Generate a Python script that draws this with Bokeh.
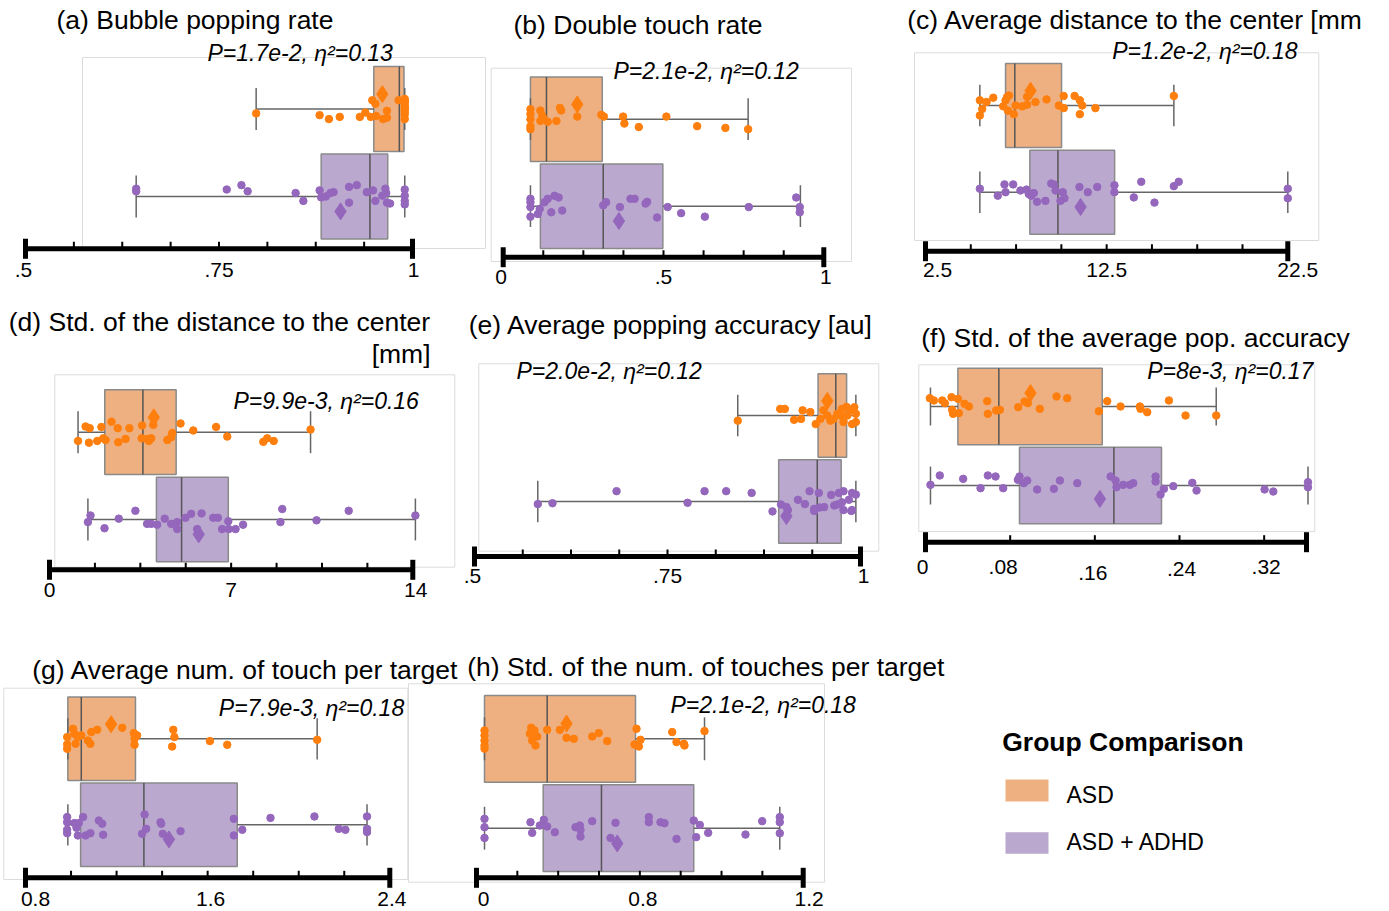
from bokeh.plotting import figure
from bokeh.models import Range1d
from bokeh.core.properties import value
from bokeh.embed import file_html
from bokeh.resources import INLINE

# ------------------------------------------------------------------ data
GROUPS = ["ASD", "ASD + ADHD"]
LEGEND_TITLE = "Group Comparison"

# box stats: [low whisker, q1, median, q3, high whisker]
# (a) Bubble popping rate
a_title = "(a) Bubble popping rate"
a_stat = "P=1.7e-2, η²=0.13"
a_asd_box = [0.798, 0.950, 0.983, 0.989, 0.990]
a_asd_mean = 0.961
a_adhd_box = [0.643, 0.882, 0.945, 0.968, 0.990]
a_adhd_mean = 0.907
a_asd_x = [0.798, 0.880, 0.892, 0.906, 0.932, 0.939, 0.946, 0.948, 0.952, 0.953, 0.962, 0.967, 0.967,
           0.982, 0.990, 0.990, 0.990, 0.990, 0.990, 0.990, 0.990, 0.990, 0.990]
a_asd_dy = [-0.05, -0.07, -0.115, -0.09, -0.09, -0.04, -0.09, 0.10, 0.06, -0.08, -0.115, -0.02, -0.10,
            0.10, 0.115, 0.075, 0.04, 0.0, -0.06, -0.115, 0.09, -0.03, 0.02]
a_adhd_x = [0.643, 0.643, 0.760, 0.779, 0.787, 0.849, 0.859, 0.880, 0.882, 0.888, 0.894, 0.898, 0.918,
            0.918, 0.928, 0.941, 0.949, 0.952, 0.961, 0.965, 0.966, 0.967, 0.971, 0.990, 0.990, 0.990, 0.990]
a_adhd_dy = [0.09, 0.06, 0.08, 0.13, 0.06, 0.04, -0.05, 0.07, -0.01, 0.0, 0.04, 0.05, 0.11,
             -0.07, 0.13, 0.05, 0.07, -0.05, 0.01, 0.09, 0.04, -0.07, -0.08, 0.08, 0.01, -0.05, -0.09]
a_ticks = [0.5, 0.5625, 0.625, 0.6875, 0.75, 0.8125, 0.875, 0.9375, 1.0]
a_label_pos = [0.5, 0.75, 1.0]
a_label_text = [".5", ".75", "1"]

# (b) Double touch rate
b_title = "(b) Double touch rate"
b_stat = "P=2.1e-2,  η²=0.12"
b_asd_box = [0.085, 0.085, 0.135, 0.309, 0.764]
b_asd_mean = 0.231
b_adhd_box = [0.085, 0.116, 0.312, 0.498, 0.927]
b_adhd_mean = 0.361
b_asd_x = [0.085, 0.085, 0.085, 0.085, 0.085, 0.116, 0.122, 0.116, 0.127, 0.139, 0.166, 0.177, 0.181,
           0.231, 0.306, 0.314, 0.374, 0.378, 0.423, 0.509, 0.605, 0.693, 0.764]
b_asd_dy = [0.115, 0.06, 0.0, -0.08, -0.115, 0.10, 0.04, -0.02, 0.0, -0.03, -0.02, 0.13, 0.10,
            0.03, 0.05, 0.03, 0.03, -0.05, -0.09, 0.03, -0.08, -0.10, -0.115]
b_adhd_x = [0.085, 0.085, 0.085, 0.085, 0.108, 0.114, 0.129, 0.139, 0.150, 0.160, 0.173, 0.184, 0.312,
            0.321, 0.364, 0.397, 0.410, 0.444, 0.449, 0.480, 0.513, 0.555, 0.629, 0.766, 0.914, 0.925, 0.925]
b_adhd_dy = [0.085, 0.046, -0.01, -0.12, -0.09, -0.03, 0.046, 0.085, -0.07, 0.12, 0.10, -0.05, 0.01,
             0.046, -0.01, 0.085, 0.085, 0.03, 0.05, -0.13, -0.01, -0.08, -0.12, -0.01, 0.10, -0.01, -0.07]
b_ticks = [0.0, 0.125, 0.25, 0.375, 0.5, 0.625, 0.75, 0.875, 1.0]
b_label_pos = [0.0, 0.5, 1.0]
b_label_text = ["0", ".5", "1"]

# (c) Average distance to the center [mm]
c_title = "(c) Average distance to the center  [mm"
c_stat = "P=1.2e-2,  η²=0.18"
c_asd_box = [5.50, 6.92, 7.43, 10.01, 16.21]
c_asd_mean = 8.30
c_adhd_box = [5.50, 8.26, 9.81, 12.94, 22.5]
c_adhd_mean = 11.06
c_asd_x = [5.50, 5.50, 5.63, 5.87, 6.24, 6.79, 6.92, 7.01, 7.10, 7.05, 7.38, 7.47, 7.84, 8.11, 8.11,
           8.57, 9.18, 9.86, 10.13, 10.13, 10.73, 11.02, 11.15, 11.02, 11.88, 16.21]
c_asd_dy = [0.06, -0.115, -0.04, 0.04, 0.09, -0.01, 0.06, 0.10, 0.115, -0.06, -0.10, 0.0, -0.01, 0.01, 0.10,
            0.04, 0.07, 0.0, -0.03, 0.11, 0.11, 0.06, 0.0, -0.10, -0.03, 0.11]
c_adhd_x = [5.50, 6.49, 6.86, 6.92, 7.34, 7.74, 8.08, 8.20, 8.33, 8.48, 8.66, 9.12, 9.44, 9.58, 9.68,
            9.95, 10.08, 10.17, 11.00, 11.46, 11.98, 12.93, 12.93, 14.00, 14.41, 15.14, 16.21, 16.48, 22.5, 22.5]
c_adhd_dy = [0.04, -0.04, 0.09, 0.0, 0.09, 0.02, 0.03, -0.02, -0.04, -0.01, -0.11, -0.10, 0.10, 0.09, 0.02,
             -0.10, 0.0, -0.07, 0.06, 0.0, 0.06, 0.08, 0.0, -0.06, 0.12, -0.12, 0.07, 0.12, 0.04, -0.07]
c_ticks = [2.5, 5.0, 7.5, 10.0, 12.5, 15.0, 17.5, 20.0, 22.5]
c_label_pos = [2.5, 12.5, 22.5]
c_label_text = ["2.5", "12.5", "22.5"]

# (d) Std. of the distance to the center [mm]
d_title = "(d) Std. of the distance to the center"
d_title2 = "[mm]"
d_stat = "P=9.9e-3,  η²=0.16"
d_asd_box = [1.10, 2.13, 3.60, 4.88, 10.06]
d_asd_mean = 4.02
d_adhd_box = [1.48, 4.12, 5.09, 6.89, 14.1]
d_adhd_mean = 5.75
d_asd_x = [1.10, 1.39, 1.55, 1.52, 1.84, 2.00, 2.07, 2.16, 2.39, 2.63, 2.65, 2.93, 3.08, 3.57, 3.55,
           3.76, 3.83, 3.92, 4.00, 4.54, 4.69, 4.73, 5.05, 5.54, 6.42, 6.85, 8.24, 8.39, 8.64, 10.06]
d_asd_dy = [-0.10, 0.065, 0.046, -0.12, -0.10, 0.06, -0.07, -0.09, 0.12, 0.046, -0.115, -0.077, 0.046, 0.077, -0.07,
            -0.077, -0.10, -0.07, 0.084, -0.09, -0.057, -0.01, 0.10, 0.02, 0.06, -0.05, -0.11, -0.07, -0.10, 0.03]
d_adhd_x = [1.48, 1.58, 2.12, 2.67, 3.31, 3.76, 3.92, 4.15, 4.44, 4.69, 4.82, 4.92, 4.92, 5.24, 5.46,
            5.69, 5.86, 6.31, 6.49, 6.65, 6.89, 6.91, 7.17, 7.46, 8.90, 8.97, 10.29, 11.53, 14.1]
d_adhd_dy = [-0.03, 0.046, -0.10, 0.01, 0.10, -0.05, -0.05, -0.06, 0.01, -0.05, -0.05, -0.03, -0.11, 0.02, 0.065,
             -0.11, 0.07, 0.02, 0.02, -0.11, -0.02, -0.11, -0.11, -0.06, -0.03, 0.12, -0.01, 0.10, 0.046]
d_ticks = [0.0, 1.75, 3.5, 5.25, 7.0, 8.75, 10.5, 12.25, 14.0]
d_label_pos = [0.0, 7.0, 14.0]
d_label_text = ["0", "7", "14"]

# (e) Average popping accuracy [au]
e_title = "(e) Average popping accuracy [au]"
e_stat = "P=2.0e-2, η²=0.12"
e_asd_box = [0.841, 0.945, 0.968, 0.982, 0.994]
e_asd_mean = 0.957
e_adhd_box = [0.582, 0.894, 0.944, 0.975, 0.994]
e_adhd_mean = 0.904
e_asd_x = [0.841, 0.896, 0.902, 0.914, 0.923, 0.925, 0.935, 0.942, 0.948, 0.952, 0.957, 0.961, 0.965,
           0.970, 0.974, 0.976, 0.978, 0.982, 0.983, 0.987, 0.989, 0.992, 0.994, 0.994]
e_asd_dy = [-0.06, 0.077, 0.077, -0.05, -0.04, 0.06, 0.04, -0.10, -0.04, 0.06, 0.0, -0.06, -0.04,
            0.02, 0.0, 0.077, -0.077, 0.10, 0.0, 0.065, -0.10, 0.096, -0.077, 0.02]
e_adhd_x = [0.582, 0.601, 0.684, 0.776, 0.798, 0.826, 0.859, 0.886, 0.897, 0.904, 0.906, 0.919, 0.928,
            0.934, 0.940, 0.940, 0.946, 0.947, 0.953, 0.962, 0.966, 0.970, 0.972, 0.976, 0.978, 0.978,
            0.985, 0.988, 0.989, 0.994, 0.989]
e_adhd_dy = [-0.03, -0.02, 0.12, -0.015, 0.12, 0.12, 0.10, -0.115, -0.035, -0.065, -0.10, 0.02, -0.03,
             0.12, -0.085, -0.11, 0.10, -0.07, -0.065, 0.077, -0.046, -0.035, 0.10, -0.01, 0.12, -0.10,
             0.02, -0.11, 0.10, 0.08, -0.10]
e_ticks = [0.5, 0.5625, 0.625, 0.6875, 0.75, 0.8125, 0.875, 0.9375, 1.0]
e_label_pos = [0.5, 0.75, 1.0]
e_label_text = [".5", ".75", "1"]

# (f) Std. of the average pop. accuracy
f_title = "(f) Std. of the average pop. accuracy"
f_stat = "P=8e-3,  η²=0.17"
f_asd_box = [0.0047, 0.0306, 0.0693, 0.167, 0.2747]
f_asd_mean = 0.0992
f_adhd_box = [0.0047, 0.0888, 0.178, 0.223, 0.3614]
f_adhd_mean = 0.1648
f_asd_x = [0.0041, 0.0079, 0.0158, 0.0183, 0.0246, 0.0252, 0.0261, 0.0306, 0.0315, 0.0369, 0.041, 0.0583,
           0.0589, 0.0668, 0.0703, 0.0876, 0.0936, 0.0967, 0.108, 0.1238, 0.1339, 0.1638, 0.1717, 0.1843,
           0.2026, 0.2032, 0.2095, 0.23, 0.2457, 0.2747]
f_asd_dy = [0.105, 0.076, 0.076, 0.042, 0.118, -0.042, -0.093, 0.097, -0.084, 0.034, 0.0, 0.068,
            -0.093, -0.05, -0.042, -0.008, 0.063, 0.042, -0.03, 0.127, 0.105, -0.06, 0.068, 0.0,
            0.0, -0.03, -0.072, 0.076, -0.114, -0.114]
f_adhd_x = [0.0047, 0.0135, 0.0356, 0.052, 0.0589, 0.0662, 0.0734, 0.0873, 0.0888, 0.0929, 0.0961, 0.1055,
            0.1213, 0.127, 0.1434, 0.1749, 0.1796, 0.1805, 0.1868, 0.1931, 0.1963, 0.2174, 0.2174, 0.2221,
            0.2253, 0.2341, 0.2521, 0.2561, 0.3204, 0.3286, 0.3614, 0.3614]
f_adhd_dy = [0.008, 0.127, 0.084, -0.034, 0.127, 0.114, -0.034, 0.072, 0.114, 0.03, 0.063, -0.05,
             -0.042, 0.063, 0.03, 0.114, 0.063, -0.021, 0.008, 0.008, 0.03, 0.114, 0.05, -0.114,
             -0.042, -0.008, 0.034, -0.063, -0.05, -0.076, 0.042, -0.021]
f_ticks = [0.0, 0.08, 0.16, 0.24, 0.32, 0.36]
f_label_pos = [0.0, 0.08, 0.16, 0.24, 0.32]
f_label_text = ["0", ".08", ".16", ".24", ".32"]

# (g) Average num. of touch per target
g_title = "(g) Average num. of touch per target"
g_stat = "P=7.9e-3,  η²=0.18"
g_asd_box = [0.986, 0.986, 1.045, 1.283, 2.081]
g_asd_mean = 1.176
g_adhd_box = [0.986, 1.042, 1.32, 1.73, 2.30]
g_adhd_mean = 1.43
g_asd_x = [0.983, 0.983, 0.983, 1.009, 1.015, 1.020, 1.030, 1.045, 1.074, 1.085, 1.089, 1.115, 1.225,
           1.276, 1.279, 1.279, 1.290, 1.449, 1.454, 1.444, 1.610, 1.686, 2.081]
g_asd_dy = [0.02, -0.066, -0.116, 0.116, 0.058, -0.058, 0.02, 0.04, -0.02, -0.058, 0.078, 0.105, 0.128,
            0.066, 0.0, -0.07, 0.04, 0.105, 0.02, -0.09, -0.027, -0.07, -0.012]
g_adhd_x = [0.983, 0.983, 0.983, 0.983, 1.015, 1.024, 1.034, 1.030, 1.053, 1.064, 1.085, 1.122, 1.137,
            1.141, 1.312, 1.323, 1.330, 1.393, 1.396, 1.403, 1.481, 1.715, 1.715, 1.752, 1.876, 2.069,
            2.176, 2.205, 2.30, 2.30, 2.30]
g_adhd_dy = [0.09, 0.03, -0.058, -0.097, 0.02, -0.035, 0.02, -0.124, 0.09, -0.124, -0.097, 0.05, 0.012,
             -0.116, -0.105, 0.12, -0.047, 0.03, 0.012, -0.105, -0.074, 0.07, -0.124, -0.058, 0.08, 0.097,
             -0.047, -0.058, 0.097, -0.047, -0.085]
g_ticks = [0.8, 1.0, 1.2, 1.4, 1.6, 1.8, 2.0, 2.2, 2.4]
g_label_pos = [0.8, 1.6, 2.4]
g_label_text = ["0.8", "1.6", "2.4"]

# (h) Std. of the num. of touches per target
h_title = "(h) Std. of the num. of touches per target"
h_stat = "P=2.1e-2, η²=0.18"
h_asd_box = [0.0294, 0.0294, 0.2596, 0.584, 0.8375]
h_asd_mean = 0.3306
h_adhd_box = [0.0294, 0.245, 0.459, 0.798, 1.114]
h_adhd_mean = 0.517
h_asd_x = [0.0294, 0.0294, 0.0294, 0.0294, 0.0294, 0.196, 0.201, 0.2045, 0.213, 0.2167, 0.223, 0.2596,
           0.306, 0.3306, 0.3574, 0.425, 0.449, 0.48, 0.5877, 0.6024, 0.5804, 0.5963, 0.7188, 0.7346,
           0.7615, 0.764, 0.8375]
h_asd_dy = [0.094, 0.037, -0.019, -0.075, -0.11, 0.056, 0.124, -0.019, 0.094, -0.075, 0.026, 0.10,
            0.10, 0.011, 0.0, 0.026, 0.064, -0.026, 0.112, -0.011, -0.064, -0.086, 0.075, -0.037,
            -0.056, -0.075, 0.086]
h_adhd_x = [0.0294, 0.0294, 0.0294, 0.1983, 0.2045, 0.2326, 0.2473, 0.2596, 0.2877, 0.3636, 0.3795, 0.382,
            0.382, 0.425, 0.4922, 0.5106, 0.633, 0.633, 0.6758, 0.6905, 0.7346, 0.798, 0.807, 0.8202,
            0.851, 0.988, 1.0494, 1.114, 1.114, 1.114]
h_adhd_dy = [0.105, 0.011, -0.109, 0.067, -0.052, 0.03, 0.094, 0.019, -0.045, 0.011, 0.03, -0.019,
             -0.094, 0.079, -0.109, 0.06, 0.124, 0.067, 0.067, 0.056, -0.12, 0.086, -0.10, 0.037,
             -0.052, -0.071, 0.079, 0.124, 0.067, -0.056]
h_ticks = [0.0, 0.15, 0.3, 0.45, 0.6, 0.75, 0.9, 1.05, 1.2]
h_label_pos = [0.0, 0.6, 1.2]
h_label_text = ["0", "0.8", "1.2"]

# ------------------------------------------------------------------ layout / style
W, H = 1389, 911
FONT = value("Liberation Sans")
PT_COLORS = ["#ff7f0e", "#9467bd"]
BOX_FILLS = ["#eeb080", "#bba8cf"]
BOX_LINE = "#8a8a8a"
WHISKER = "#666666"
MEDIAN = "#555555"
FRAME = "#dcdcdc"
BOX_HALF = 0.485
CAP_HALF = 0.24
MEAN_OFF = [0.17, -0.17]
TITLE_SIZE = 26.5
STAT_SIZE = 23
TICK_SIZE = 21
LEG_TITLE_SIZE = 26.5
LEG_SIZE = 23
BASE_SHIFT = 0.4   # empirical correction of the rendered alphabetic baseline


def by(y, size):
    return y - BASE_SHIFT * size


# per panel layout (pixels in the page)
LAYOUT = {
    "a": dict(title=(56, 30), stat=(207, 62), frame=(82, 57, 485, 248), yax=248.3, X=(25, 412),
              yc=(108.5, 196), lab_off=30, lab_dx=[-2, 0, 1], lab_dy=[0, 0, 0]),
    "b": dict(title=(513, 35), stat=(613, 80), frame=(490.7, 67.7, 851, 261), yax=256.7, X=(502.7, 823.3),
              yc=(118.7, 205.7), lab_off=28, lab_dx=[-2, 0, 2], lab_dy=[0, 0, 0]),
    "c": dict(title=(906.7, 30), stat=(1111.7, 60), frame=(914, 52.3, 1318.3, 240), yax=250.7, X=(925, 1287.3),
              yc=(105, 191.7), lab_off=27.5, lab_dx=[12, 0, 10], lab_dy=[0, 0, 0]),
    "d": dict(title=(8.3, 331.7), stat=(233, 410), frame=(54.3, 374.3, 454.3, 566.7), yax=569.3, X=(49, 412.3),
              yc=(431.7, 519), lab_off=29, lab_dx=[0, 0, 3], lab_dy=[0, 0, 0]),
    "e": dict(title=(468.3, 335), stat=(516, 380), frame=(478.3, 363.3, 878.3, 550.7), yax=556, X=(474, 860),
              yc=(415, 501), lab_off=28, lab_dx=[-2, 0, 3], lab_dy=[0, 0, 0]),
    "f": dict(title=(920.7, 348.3), stat=(1146.7, 380), frame=(918.3, 364.3, 1314.3, 531), yax=541.7, X=(925, 1306),
              yc=(406, 485), lab_off=33.3, lab_dx=[-3, -7, -2, 2, 2], lab_dy=[0, 0, 6, 2, 0]),
    "g": dict(title=(31.7, 680), stat=(218.3, 716.7), frame=(3.3, 687.7, 407.3, 879), yax=877.3, X=(25, 389.3),
              yc=(738.3, 824.3), lab_off=29.4, lab_dx=[10, 3, 2], lab_dy=[0, 0, 0]),
    "h": dict(title=(466.7, 676.7), stat=(670, 713.3), frame=(408, 683.3, 824, 881.7), yax=877.3, X=(476, 802.7),
              yc=(738.3, 827.7), lab_off=29.4, lab_dx=[7, 3, 6], lab_dy=[0, 0, 0]),
}

PANELS = [
    ("a", a_title, a_stat, a_asd_box, a_asd_mean, a_adhd_box, a_adhd_mean, a_asd_x, a_asd_dy, a_adhd_x, a_adhd_dy, a_ticks, a_label_pos, a_label_text),
    ("b", b_title, b_stat, b_asd_box, b_asd_mean, b_adhd_box, b_adhd_mean, b_asd_x, b_asd_dy, b_adhd_x, b_adhd_dy, b_ticks, b_label_pos, b_label_text),
    ("c", c_title, c_stat, c_asd_box, c_asd_mean, c_adhd_box, c_adhd_mean, c_asd_x, c_asd_dy, c_adhd_x, c_adhd_dy, c_ticks, c_label_pos, c_label_text),
    ("d", d_title, d_stat, d_asd_box, d_asd_mean, d_adhd_box, d_adhd_mean, d_asd_x, d_asd_dy, d_adhd_x, d_adhd_dy, d_ticks, d_label_pos, d_label_text),
    ("e", e_title, e_stat, e_asd_box, e_asd_mean, e_adhd_box, e_adhd_mean, e_asd_x, e_asd_dy, e_adhd_x, e_adhd_dy, e_ticks, e_label_pos, e_label_text),
    ("f", f_title, f_stat, f_asd_box, f_asd_mean, f_adhd_box, f_adhd_mean, f_asd_x, f_asd_dy, f_adhd_x, f_adhd_dy, f_ticks, f_label_pos, f_label_text),
    ("g", g_title, g_stat, g_asd_box, g_asd_mean, g_adhd_box, g_adhd_mean, g_asd_x, g_asd_dy, g_adhd_x, g_adhd_dy, g_ticks, g_label_pos, g_label_text),
    ("h", h_title, h_stat, h_asd_box, h_asd_mean, h_adhd_box, h_adhd_mean, h_asd_x, h_asd_dy, h_adhd_x, h_adhd_dy, h_ticks, h_label_pos, h_label_text),
]

# ------------------------------------------------------------------ figure
p = figure(width=W, height=H, x_range=Range1d(0, W), y_range=Range1d(H, 0),
           output_backend="svg", toolbar_location=None,
           x_axis_location=None, y_axis_location=None, min_border=0)
p.outline_line_color = None
p.xgrid.visible = False
p.ygrid.visible = False
p.background_fill_color = "white"
p.border_fill_color = "white"

# scales for each panel: value axis mapped onto its pixel span; groups ASD=1, ADHD=0
xr_map, yr_map = {}, {}
for key, *_rest in PANELS:
    L = LAYOUT[key]
    ticks = _rest[-3]
    v0, v1 = ticks[0], ticks[-1]
    X0, X1 = L["X"]
    k = (v1 - v0) / (X1 - X0)
    xr_map["x" + key] = Range1d(v0 - X0 * k, v0 + (W - X0) * k)
    ya, yb = L["yc"]
    yr_map["y" + key] = Range1d((yb - H) / (yb - ya), yb / (yb - ya))
p.extra_x_ranges = xr_map
p.extra_y_ranges = yr_map

# frames
for key, *_ in PANELS:
    l, t, r, b = LAYOUT[key]["frame"]
    p.quad(left=[l], right=[r], top=[t], bottom=[b], fill_color=None, line_color=FRAME, line_width=1)

for (key, title, stat, asd_box, asd_mean, adhd_box, adhd_mean,
     asd_x, asd_dy, adhd_x, adhd_dy, ticks, lab_pos, lab_txt) in PANELS:
    L = LAYOUT[key]
    xr, yr = "x" + key, "y" + key
    groups = [(1, asd_box, asd_mean, asd_x, asd_dy, 0), (0, adhd_box, adhd_mean, adhd_x, adhd_dy, 1)]
    for c, box, mean, xs, dys, gi in groups:
        lo, q1, med, q3, hi = box
        p.quad(left=[q1], right=[q3], bottom=[c - BOX_HALF], top=[c + BOX_HALF],
               fill_color=BOX_FILLS[gi], line_color=BOX_LINE, line_width=1.5,
               x_range_name=xr, y_range_name=yr)
        p.segment(x0=[lo, q3], y0=[c, c], x1=[q1, hi], y1=[c, c], line_color=WHISKER,
                  line_width=1.5, x_range_name=xr, y_range_name=yr)
        p.segment(x0=[lo, hi], y0=[c - CAP_HALF] * 2, x1=[lo, hi], y1=[c + CAP_HALF] * 2,
                  line_color=WHISKER, line_width=1.5, x_range_name=xr, y_range_name=yr)
        p.segment(x0=[med], y0=[c - BOX_HALF], x1=[med], y1=[c + BOX_HALF], line_color=MEDIAN,
                  line_width=1.5, x_range_name=xr, y_range_name=yr)
    for c, box, mean, xs, dys, gi in groups:
        p.scatter(x=xs, y=[c + d for d in dys], size=7.5, fill_color=PT_COLORS[gi],
                  line_color=PT_COLORS[gi], x_range_name=xr, y_range_name=yr)
        p.scatter(x=[mean], y=[c + MEAN_OFF[gi]], marker="diamond", size=17,
                  fill_color=PT_COLORS[gi], line_color=PT_COLORS[gi],
                  x_range_name=xr, y_range_name=yr)

    # value axis (x in panel scale, y in page pixels)
    yax = L["yax"]
    v0, v1 = ticks[0], ticks[-1]
    inner = ticks[1:-1]
    p.segment(x0=[v0], y0=[yax], x1=[v1], y1=[yax], line_color="black", line_width=5,
              x_range_name=xr)
    p.segment(x0=inner, y0=[yax] * len(inner), x1=inner, y1=[yax - 7] * len(inner),
              line_color="black", line_width=2, x_range_name=xr)
    p.segment(x0=[v0, v1], y0=[yax - 10] * 2, x1=[v0, v1], y1=[yax + 10] * 2,
              line_color="black", line_width=5, x_range_name=xr)
    p.text(x=lab_pos, y=[by(yax + L["lab_off"] + d, TICK_SIZE) for d in L["lab_dy"]], text=lab_txt,
           x_offset=L["lab_dx"], text_align="center", text_baseline="alphabetic",
           text_font=FONT, text_font_size=f"{TICK_SIZE}px", text_color="black", x_range_name=xr)

    # titles and statistics
    tx, ty = L["title"]
    p.text(x=[tx], y=[by(ty, TITLE_SIZE)], text=[title], text_align="left", text_baseline="alphabetic",
           text_font=FONT, text_font_size=f"{TITLE_SIZE}px", text_color="black")
    sx, sy = L["stat"]
    p.text(x=[sx], y=[by(sy, STAT_SIZE)], text=[stat], text_align="left", text_baseline="alphabetic",
           text_font=FONT, text_font_size=f"{STAT_SIZE}px", text_font_style="italic", text_color="black")

p.text(x=[430], y=[by(364, TITLE_SIZE)], text=[d_title2], text_align="right", text_baseline="alphabetic",
       text_font=FONT, text_font_size=f"{TITLE_SIZE}px", text_color="black")

# legend
p.text(x=[1001.7], y=[by(751.7, LEG_TITLE_SIZE)], text=[LEGEND_TITLE], text_align="left",
       text_baseline="alphabetic", text_font=FONT, text_font_size=f"{LEG_TITLE_SIZE}px",
       text_font_style="bold", text_color="black")
p.quad(left=[1005, 1005], right=[1048, 1048], top=[779, 831.7], bottom=[801, 853.3],
       fill_color=BOX_FILLS, line_color=None)
p.text(x=[1066, 1066], y=[by(803.3, LEG_SIZE), by(850.7, LEG_SIZE)], text=GROUPS, text_align="left",
       text_baseline="alphabetic", text_font=FONT, text_font_size=f"{LEG_SIZE}px", text_color="black")

open("out.html", "w").write(file_html(p, INLINE))
